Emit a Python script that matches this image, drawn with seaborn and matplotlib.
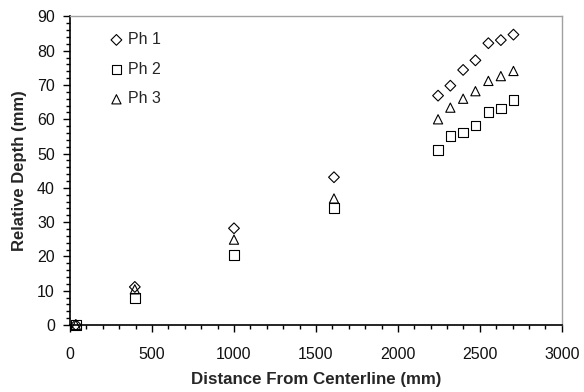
import matplotlib
matplotlib.use("Agg")
import matplotlib.pyplot as plt
from matplotlib.ticker import MultipleLocator
import seaborn as sns
import pandas as pd

# Measurement stations (mm from centerline)
distance = [35, 395, 1000, 1610, 2245, 2320, 2398, 2473, 2552, 2628, 2705]

# Relative depth for each phase (mm)
ph1 = [0.0, 11.1, 28.2, 43.1, 66.9, 69.8, 74.4, 77.2, 82.2, 83.1, 84.7]
ph2 = [0.0, 7.8, 20.5, 34.2, 51.1, 55.1, 56.2, 58.2, 62.2, 63.2, 65.6]
ph3 = [0.0, 10.4, 24.9, 36.9, 60.0, 63.4, 66.0, 68.2, 71.2, 72.6, 74.1]

series = {"Ph 1": ph1, "Ph 2": ph2, "Ph 3": ph3}
markers = {"Ph 1": "D", "Ph 2": "s", "Ph 3": "^"}
sizes = {"Ph 1": 30, "Ph 2": 48, "Ph 3": 44}

sns.set_theme(style="white")
plt.rcParams["font.family"] = ["Liberation Sans", "DejaVu Sans"]

fig = plt.figure(figsize=(5.84, 3.92), dpi=100)
ax = fig.add_axes([0.120, 0.171, 0.842, 0.787])

for name, vals in series.items():
    df = pd.DataFrame({"x": distance, "y": vals})
    sns.scatterplot(data=df, x="x", y="y", ax=ax, marker=markers[name],
                    s=sizes[name], facecolor="none", edgecolor="black",
                    linewidth=0.8, label=name, clip_on=False, zorder=3)

ax.set_xlim(0, 3000)
ax.set_ylim(0, 90)
ax.xaxis.set_major_locator(MultipleLocator(500))
ax.xaxis.set_minor_locator(MultipleLocator(100))
ax.yaxis.set_major_locator(MultipleLocator(10))
ax.yaxis.set_minor_locator(MultipleLocator(2))

ax.tick_params(axis="both", which="major", direction="out", length=5,
               width=1, color="black", labelsize=11.5, pad=6,
               labelcolor="#111111", bottom=True, left=True)
ax.tick_params(axis="both", which="minor", direction="out", length=3,
               width=1, color="black", bottom=True, left=True)
ax.tick_params(axis="x", which="major", pad=11)

for side in ("left", "bottom"):
    ax.spines[side].set_color("black")
    ax.spines[side].set_linewidth(1.2)
for side in ("top", "right"):
    ax.spines[side].set_color("#a0a0a0")
    ax.spines[side].set_linewidth(1.0)

ax.set_xlabel("Distance From Centerline (mm)", fontsize=12.2,
              fontweight="bold", labelpad=7)
ax.set_ylabel("Relative Depth (mm)", fontsize=12, fontweight="bold",
              labelpad=7)

leg = ax.legend(loc="upper left", frameon=False, fontsize=11.5,
                handletextpad=0.2, labelspacing=0.92, borderaxespad=0.0,
                bbox_to_anchor=(0.065, 0.97), handlelength=1.0)

fig.savefig("out.png", dpi=100)
